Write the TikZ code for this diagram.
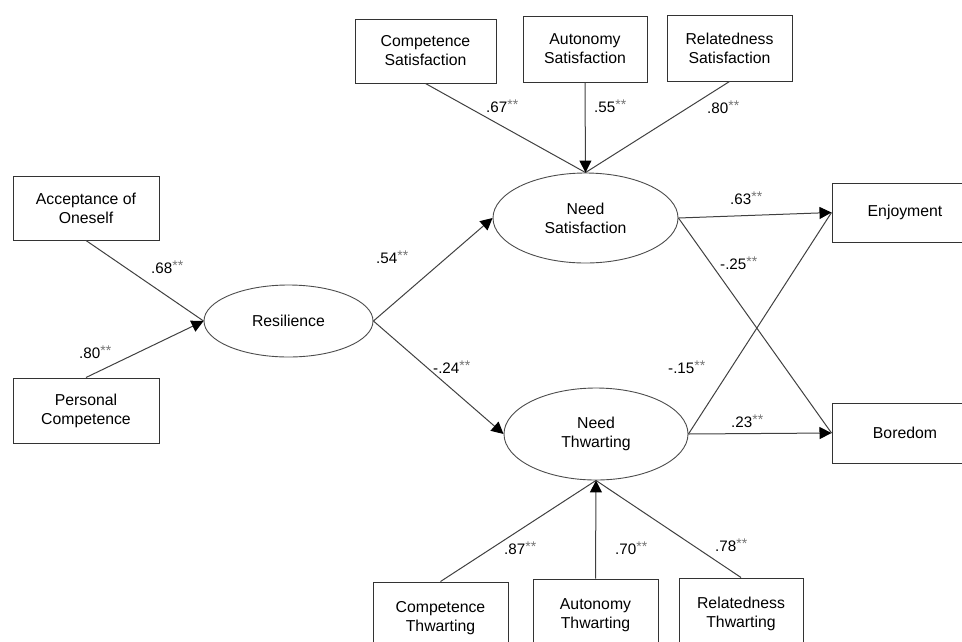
\documentclass[tikz,border=0pt]{standalone}
\usepackage{fontspec}
\setmainfont{Liberation Sans}
\usetikzlibrary{arrows.meta,shapes.geometric}
\newcommand{\coef}[1]{{\fontsize{15.2}{18}\selectfont #1}{\color{black!55}\fontsize{14}{14}\selectfont\raisebox{3pt}{**}}}
\begin{document}
\begin{tikzpicture}[x=1pt,y=-1pt,
  every node/.style={font=\fontsize{15.8}{19}\selectfont, align=center, text=black},
  obs/.style={draw=black!80, line width=1pt, rectangle, inner sep=0pt},
  lat/.style={draw=black!70, line width=0.9pt, ellipse, inner sep=0pt},
  path/.style={draw=black!75, line width=1pt},
  arr/.style={path, -{Triangle[length=12pt,width=12pt,color=black]}},
  lab/.style={anchor=base west, inner sep=0pt}
]
\useasboundingbox (0,0) rectangle (962,641);
% observed boxes
\node[obs, minimum width=141pt, minimum height=64pt] (cs) at (425.5,51) {Competence\\Satisfaction};
\node[obs, minimum width=124pt, minimum height=66pt] (as) at (585,49) {Autonomy\\Satisfaction};
\node[obs, minimum width=125pt, minimum height=66pt] (rs) at (729.5,48) {Relatedness\\Satisfaction};
\node[obs, minimum width=146pt, minimum height=64pt] (ao) at (86,208) {Acceptance of\\Oneself};
\node[obs, minimum width=146pt, minimum height=65pt] (pc) at (86,410.5) {Personal\\Competence};
\node[obs, minimum width=146pt, minimum height=59pt] (enj) at (905,212.5) {Enjoyment};
\node[obs, minimum width=146pt, minimum height=60pt] (bor) at (905,433) {Boredom};
\node[obs, minimum width=135pt, minimum height=72pt] (ct) at (440.5,618) {Competence\\Thwarting};
\node[obs, minimum width=125pt, minimum height=72pt] (at) at (595.5,615) {Autonomy\\Thwarting};
\node[obs, minimum width=124pt, minimum height=72pt] (rt) at (741,614) {Relatedness\\Thwarting};
% latent ellipses
\node[lat, minimum width=169pt, minimum height=72pt] (res) at (288.5,321) {Resilience};
\node[lat, minimum width=185pt, minimum height=90pt] (nsat) at (585.5,218) {Need\\Satisfaction};
\node[lat, minimum width=184pt, minimum height=92pt] (nthw) at (596,434) {Need\\Thwarting};
% connectors
\draw[path] (cs.south) -- (nsat.north);
\draw[path] (rs.south) -- (nsat.north);
\draw[arr] (as.south) -- (nsat.north);
\draw[path] (ao.south) -- (res.west);
\draw[arr] (pc.north) -- (res.west);
\draw[arr] (res.east) -- (nsat.west);
\draw[arr] (res.east) -- (nthw.west);
\draw[arr] (nsat.east) -- (enj.west);
\draw[path] (nthw.east) -- (enj.west);
\draw[arr] (nthw.east) -- (bor.west);
\draw[path] (nsat.east) -- (bor.west);
\draw[path] (ct.north) -- (nthw.south);
\draw[path] (rt.north) -- (nthw.south);
\draw[arr] (at.north) -- (nthw.south);
% coefficients
\node[lab] (l1) at (486,112) {\coef{.67}};
\node[lab] (l2) at (594,112) {\coef{.55}};
\node[lab] (l3) at (707,113) {\coef{.80}};
\node[lab] (l4) at (730,204) {\coef{.63}};
\node[lab] (l5) at (151,273) {\coef{.68}};
\node[lab] (l6) at (79,358) {\coef{.80}};
\node[lab] (l7) at (376,263) {\coef{.54}};
\node[lab] (l8) at (433,373) {\coef{-.24}};
\node[lab] (l9) at (668,373) {\coef{-.15}};
\node[lab] (l10) at (720,269) {\coef{-.25}};
\node[lab] (l11) at (731,427) {\coef{.23}};
\node[lab] (l12) at (504,554) {\coef{.87}};
\node[lab] (l13) at (615,554) {\coef{.70}};
\node[lab] (l14) at (715,551) {\coef{.78}};
\end{tikzpicture}
\end{document}
